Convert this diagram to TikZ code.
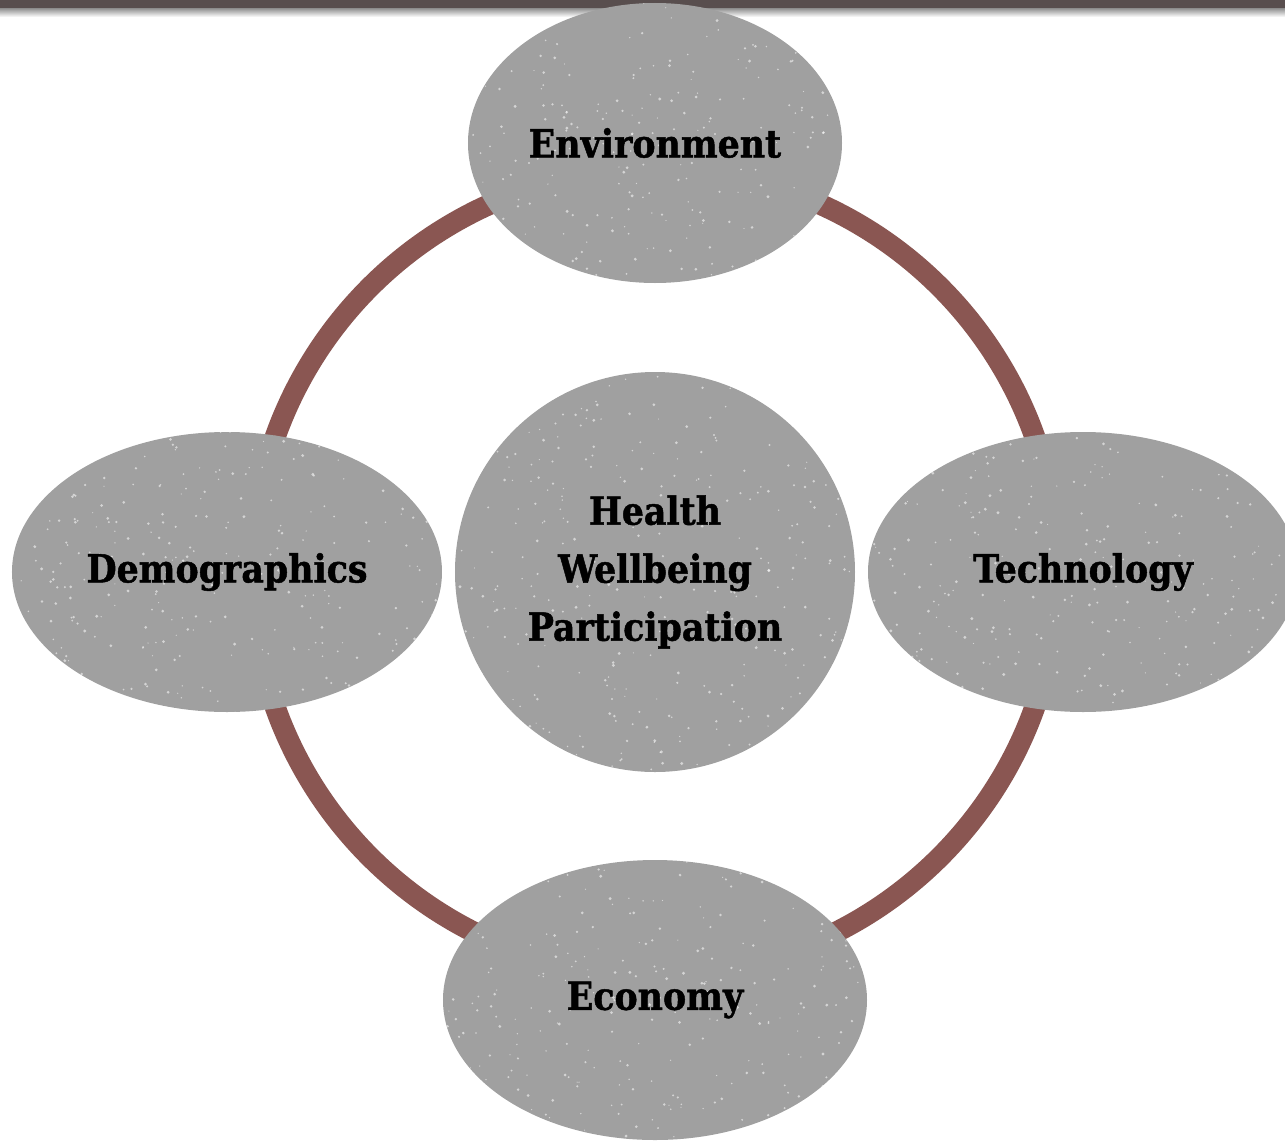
\documentclass[tikz,border=0pt]{standalone}
\usepackage{fontspec}
\setmainfont{DejaVu Serif Condensed}[BoldFeatures={FakeBold=1.2}]
\usetikzlibrary{shapes.geometric,calc}
\definecolor{ringcolor}{RGB}{138,86,82}
\definecolor{blobcolor}{RGB}{160,160,160}
\definecolor{barcolor}{RGB}{88,78,78}

\pgfmathsetseed{42}

\tikzset{
  % worn paint: pale specks scattered inside the shape
  worn/.style={path picture={
    \foreach \k in {1,...,#1}
      \fill[white, opacity=0.55]
        ($(path picture bounding box.center)+(rand*2.2,rand*2.1)$)
        circle ({0.006+0.01*rnd});
  }},
  blob/.style={ellipse, fill=blobcolor, inner sep=0pt, worn=450,
    minimum width=4.3cm, minimum height=2.8cm,
    font=\bfseries\fontsize{11}{16.5}\selectfont, align=center}
}

\begin{document}
\begin{tikzpicture}

% page frame
\useasboundingbox (-6.55,-5.68) rectangle (6.30,5.72);

% ================= TOP BAR =================
\shade[top color=black!45, bottom color=white] (-6.55,5.64) rectangle (6.30,5.55);
\fill[barcolor] (-6.55,5.72) rectangle (6.30,5.64);

% ================= RING =================
\draw[ringcolor, line width=0.21cm] (0,0) circle (4.03);

% ================= OUTER THEMES =================
\node[blob, minimum width=3.74cm] (env)  at (0,4.29)  {Environment};
\node[blob] (demo) at (-4.28,0) {Demographics};
\node[blob] (tech) at (4.28,0)  {Technology};
\node[blob, minimum width=4.24cm] (econ) at (0,-4.28) {Economy};

% ================= CORE =================
\node[blob, circle, minimum size=4cm] (core) at (0,0)
{Health\\Wellbeing\\Participation};

\end{tikzpicture}
\end{document}
